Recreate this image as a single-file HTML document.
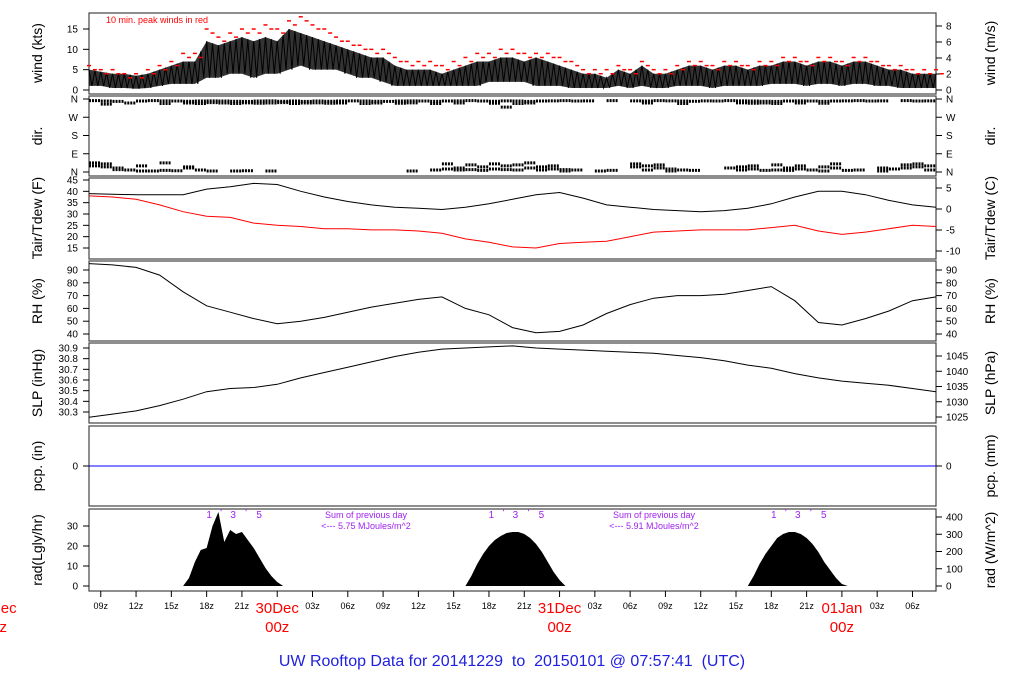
<!DOCTYPE html>
<html><head><meta charset="utf-8"><style>
html,body{margin:0;padding:0;background:#fff;}
svg{display:block;font-family:"Liberation Sans",sans-serif;}
</style></head><body>
<svg id="chart" width="1024" height="700" viewBox="0 0 1024 700" xmlns="http://www.w3.org/2000/svg"></svg>
<script>
// ---- data ----
const windHi=[5,4.5,4,4,3.5,4,5,6,7,7, 12,11,12,13,12,13,12,15,14,13, 12,11,10,9,8,8,6,5,5,5, 4,5,6,7,7,8,8,7,8,7, 6,5,4,4,3,5,4,6,4,4, 5,6,6,5,6,6,5,6,6,7, 7,6,7,7,6,7,7,6,5,5, 4,4,4];
const windLo=[1,1,0.5,0.5,0.3,0.5,1,1.5,1.5,1.5, 3,3,4,4,3,4,4,5,6,5, 5,5,4,3,3,2,1,1,1,1, 1,1,1,1,2,2,2,2,1,1, 1,0.5,0.5,0.5,0.5,1,0.5,1,0.5,0.5, 1,1,1,0.5,1,1,1,1,1.5,1.5, 1.5,1,1.5,1.5,1,1.5,1.5,1,1,0.5, 0.5,0.5,0.5];
const windPk=[6,5,5,4,4,5,6,7,9,9, 15,13,14,15,15,16,15,17,18,16, 15,13,12,11,10,10,8,7,7,7, 6,7,8,9,9,10,10,9,9,9, 8,7,5,5,5,6,5,7,5,5, 6,7,7,6,7,7,6,7,7,8, 8,7,8,8,7,8,8,7,6,6, 5,5,5];
const dirTop=[352,350,348,null,350,352,351,350,349,350, 351,350,349,348,350,351,349,350,348,350, 349,350,351,350,349,348,350,351,350,349, 350,351,352,350,349,351,350,348,350,351, 352,350,351,null,352,null,351,350,352,351, 350,349,351,350,352,351,350,349,348,350, 351,350,349,350,351,352,350,351,null,352, 350,351,352];
const dirTop2=[null,335,null,340,null,null,338,null,340,338, 342,340,338,341,339,340,342,338,340,341, 339,340,null,338,340,null,339,341,null,338, null,340,null,null,339,320,338,340,null,null, null,null,null,null,null,null,null,340,null,null, 338,null,null,null,null,341,339,340,338,null, 340,null,339,null,null,null,null,null,null,null, null,null,null];
const dirBot=[30,25,20,10,5,5,8,6,25,10, 5,null,5,6,null,5,null,null,null,null, null,null,null,null,null,null,null,5,null,10, 15,20,12,25,15,30,35,20,25,15, 12,10,null,5,8,null,25,30,20,15, 10,8,null,null,20,25,15,8,10,20, 15,10,25,20,8,10,null,5,15,20, 25,30,15];
const dirBot2=[45,40,12,null,30,null,45,null,20,null, null,null,null,null,null,null,null,null,null,null, null,null,null,null,null,null,null,null,null,null, 40,10,35,8,40,12,10,45,10,30, 5,null,null,null,null,null,40,10,35,5, null,null,null,null,null,10,30,null,35,8, 30,null,5,40,null,null,null,20,null,35, 40,10,45];
const tHours=[0,2,4,6,8,10,12,14,16,18,20,22,24,26,28,30,32,34,36,38,40,42,44,46,48,50,52,54,56,58,60,62,64,66,68,70,72];
const tair=[39,38.7,38.5,38.5,38.5,41,42,43.5,43,40,37.5,35.5,34,33,32.5,32,33,34.5,36.5,38.5,39.5,37,34,33,32,31.5,31,31.5,32.5,34.5,37.5,40,40,38.5,36,34,33];
const tdew=[38,37.5,36.5,34,31,29,28.5,26,25,24.5,23.5,23.5,23,23,22.5,21.5,19,17.5,15.5,15,17,17.5,18,20,22,22.5,23,23,23,24,25,22.5,21,22,23.5,25,24.5];
const rh=[95,94,92,86,73,62,57,52,48,50,53,57,61,64,67,69,60,55,45,41,42,47,56,63,68,70,70,71,74,77,66,49,47,52,58,66,69];
const slp=[30.25,30.28,30.31,30.36,30.42,30.49,30.52,30.53,30.56,30.62,30.67,30.72,30.77,30.82,30.86,30.89,30.9,30.91,30.92,30.9,30.89,30.88,30.87,30.86,30.85,30.83,30.81,30.78,30.74,30.71,30.66,30.62,30.59,30.57,30.55,30.52,30.49];
const pcp=[0,0];
const radStarts=[8,32,56];
const radDay1=[0,4,12,18,19,30,37,22,28,26,27,23,19,14,9,5,2,0];
const radDay2=[0,5,11,16,20,23,25,26.5,27,27,26,24,21,17,12,7,3,0];
const radDay3=[0,5,11,16,20,24,26,27,27,26,24,21,17,12,8,4,1,0];
const hourTicks=[1,4,7,10,13,16,19,22,25,28,31,34,37,40,43,46,49,52,55,58,61,64,67,70];
const hourLabels=["09z","12z","15z","18z","21z","00z","03z","06z","09z","12z","15z","18z","21z","00z","03z","06z","09z","12z","15z","18z","21z","00z","03z","06z"];
const dayHours=[-8,16,40,64];
const dayLabels=["29Dec","30Dec","31Dec","01Jan"];

// ---- helpers ----
const NS="http://www.w3.org/2000/svg";
const svg=document.getElementById('chart');
function el(tag,attrs,parent,text){const e=document.createElementNS(NS,tag);for(const k in attrs)e.setAttribute(k,attrs[k]);if(text!==undefined)e.textContent=text;(parent||svg).appendChild(e);return e;}
const X0=89,X1=936,HOURS=72;
const x=h=>X0+h*(X1-X0)/HOURS;
function lin(d0,d1,p0,p1){return v=>p0+(v-d0)*(p1-p0)/(d1-d0);}

function panel(name,top,bot){
  const r=el('rect',{x:X0,y:top,width:X1-X0,height:bot-top,fill:'none',stroke:'#444','stroke-width':1.2});
  
  
}
function leftTicks(name,vals,labs,ys){
  const g=el('g',{});
  
  
  vals.forEach((v,i)=>{const y=ys(v);el('line',{x1:X0-6,x2:X0,y1:y,y2:y,stroke:'#000'},g);
    el('text',{x:X0-11,y:y+3.5,'font-size':10,'text-anchor':'end'},g,labs[i]);});
}
function rightTicks(name,vals,labs,ys){
  const g=el('g',{});
  
  
  vals.forEach((v,i)=>{const y=ys(v);el('line',{x1:X1,x2:X1+6,y1:y,y2:y,stroke:'#000'},g);
    el('text',{x:X1+10,y:y+3.5,'font-size':10},g,labs[i]);});
}
function ytitle(name,txt,cx,cy){
  const t=el('text',{x:cx,y:cy,'font-size':14,'text-anchor':'middle',transform:`rotate(-90 ${cx} ${cy})`},svg,txt);
  
  
}
function poly(name,hs,vs,ys,color){
  const pts=hs.map((h,i)=>x(h).toFixed(1)+','+ys(vs[i]).toFixed(1)).join(' ');
  const p=el('polyline',{points:pts,fill:'none',stroke:color,'stroke-width':1});
  
  
}
const hourly=windHi.map((_,i)=>i);

// ---- wind ----
panel('wind',13,94);
const yW=lin(0,15,90,29);
const yWms=lin(0,8,90,26);
leftTicks('wind-kts',[0,5,10,15],['0','5','10','15'],yW);
rightTicks('wind-ms',[0,2,4,6,8],['0','2','4','6','8'],yWms);
ytitle('wind-kts-title','wind (kts)',42,53);
ytitle('wind-ms-title','wind (m/s)',995,53);
{
  const up=hourly.map(h=>x(h)+','+yW(windHi[h])).join(' ');
  const dn=hourly.slice().reverse().map(h=>x(h)+','+yW(windLo[h])).join(' ');
  const band=el('polygon',{points:up+' '+dn,fill:'#000','fill-opacity':0.8});
  
  
  const zz=[];hourly.forEach(h=>{zz.push(x(h)+','+yW(windHi[h]));if(h<72){zz.push(x(h+0.25)+','+yW(windLo[h]));zz.push(x(h+0.5)+','+yW((windHi[h]+windHi[h+1])/2));zz.push(x(h+0.75)+','+yW(windLo[h+1]));}});
  const zl=el('polyline',{points:zz.join(' '),fill:'none',stroke:'#000','stroke-width':1});
  
  
  const gg=el('g',{});
  
  
  windPk.forEach((v,h)=>{el('line',{x1:x(h)-2,x2:x(h)+2,y1:yW(v),y2:yW(v),stroke:'#f00','stroke-width':1.5},gg);
    el('line',{x1:x(h+0.5)-2,x2:x(h+0.5)+2,y1:yW(v-1),y2:yW(v-1),stroke:'#f00','stroke-width':1.5},gg);});
  const note=el('text',{x:106,y:23,'font-size':9,fill:'#f00'},svg,'10 min. peak winds in red');
  
  
}

// ---- direction ----
panel('dir',96,176);
const yD=lin(0,360,172,99);
leftTicks('dir',[0,90,180,270,360],['N','E','S','W','N'],yD);
rightTicks('dir',[0,90,180,270,360],['N','E','S','W','N'],yD);
ytitle('dir-title','dir.',42,136);
ytitle('dir-right-title','dir.',995,136);
{
  const g=el('g',{});
  
  
  [dirTop,dirTop2,dirBot,dirBot2].forEach(arr=>arr.forEach((v,h)=>{if(v===null||h>=72)return;
    el('line',{x1:x(h),x2:x(h+1),y1:yD(v),y2:yD(v),stroke:'#000','stroke-width':3,'stroke-dasharray':'2 1'},g);}));
}

// ---- temperature ----
panel('temp',178,259);
const yT=lin(15,45,248,180);
const yC=lin(-10,5,251,188);
leftTicks('temp-f',[15,20,25,30,35,40,45],['15','20','25','30','35','40','45'],yT);
rightTicks('temp-c',[-10,-5,0,5],['-10','-5','0','5'],yC);
ytitle('temp-f-title','Tair/Tdew (F)',42,218);
ytitle('temp-c-title','Tair/Tdew (C)',995,218);
poly('air-temperature-line',tHours,tair,yT,'#000');
poly('dewpoint-line',tHours,tdew,yT,'#f00');

// ---- RH ----
panel('rh',261,341);
const yR=lin(40,90,334,270);
leftTicks('rh',[40,50,60,70,80,90],['40','50','60','70','80','90'],yR);
rightTicks('rh-right',[40,50,60,70,80,90],['40','50','60','70','80','90'],yR);
ytitle('rh-title','RH (%)',42,301);
ytitle('rh-right-title','RH (%)',995,301);
poly('rh-line',tHours,rh,yR,'#000');

// ---- SLP ----
panel('slp',343,423);
const yS=lin(30.3,30.9,412,348);
const yP=lin(1025,1045,417,356);
leftTicks('slp-inhg',[30.3,30.4,30.5,30.6,30.7,30.8,30.9],['30.3','30.4','30.5','30.6','30.7','30.8','30.9'],yS);
rightTicks('slp-hpa',[1025,1030,1035,1040,1045],['1025','1030','1035','1040','1045'],yP);
ytitle('slp-inhg-title','SLP (inHg)',42,383);
ytitle('slp-hpa-title','SLP (hPa)',995,383);
poly('slp-line',tHours,slp,yS,'#000');

// ---- precip ----
panel('pcp',426,506);
const yPc=lin(0,1,466,436);
leftTicks('pcp-in',[0],['0'],yPc);
rightTicks('pcp-mm',[0],['0'],yPc);
ytitle('pcp-in-title','pcp. (in)',42,466);
ytitle('pcp-mm-title','pcp. (mm)',995,466);
poly('precip-line',[0,72],pcp,yPc,'#00f');

// ---- radiation ----
panel('rad',509,591);
const yRd=lin(0,30,586,526);
const yWm=lin(0,400,586,517);
leftTicks('rad-lgly',[0,10,20,30],['0','10','20','30'],yRd);
rightTicks('rad-wm2',[0,100,200,300,400],['0','100','200','300','400'],yWm);
ytitle('rad-title','rad(Lgly/hr)',42,550);
ytitle('rad-right-title','rad (W/m^2)',995,550);
[radDay1,radDay2,radDay3].forEach((arr,d)=>{
  const s=radStarts[d];
  const pts=arr.map((v,i)=>x(s+i*0.5)+','+yRd(v));
  pts.push(x(s+(arr.length-1)*0.5)+','+yRd(0));pts.push(x(s)+','+yRd(0));
  const p=el('polygon',{points:pts.join(' '),fill:'#000'});
  
  
  const g=el('g',{'font-size':10,fill:'#a020f0','text-anchor':'middle'});
  
  
  const c=x(s)+26;
  el('text',{x:c,y:518},g,'1');el('text',{x:c+12,y:516},g,"'");el('text',{x:c+24,y:518},g,'3');
  el('text',{x:c+37,y:516},g,"'");el('text',{x:c+50,y:518},g,'5');
});
[[366,'5.75'],[654,'5.91']].forEach((s,i)=>{
  const g=el('g',{'font-size':9,fill:'#a020f0','text-anchor':'middle'});
  
  
  el('text',{x:s[0],y:518},g,'Sum of previous day');
  el('text',{x:s[0],y:529},g,'<--- '+s[1]+' MJoules/m^2');
});

// ---- time axis ----
{
  const g=el('g',{});
  
  
  hourTicks.forEach((h,i)=>{el('line',{x1:x(h),x2:x(h),y1:591,y2:597,stroke:'#000'},g);
    if(hourLabels[i]!=='00z')el('text',{x:x(h),y:609,'font-size':9,'text-anchor':'middle'},g,hourLabels[i]);});
  dayHours.forEach((h,i)=>{
    el('text',{x:x(h),y:613,'font-size':15,fill:'#f00','text-anchor':'middle'},g,dayLabels[i]);
    el('text',{x:x(h),y:632,'font-size':15,fill:'#f00','text-anchor':'middle'},g,'00z');
  });
}
const title=el('text',{x:512,y:666,'font-size':16,fill:'#2020e0','text-anchor':'middle'},svg,'UW Rooftop Data for 20141229  to  20150101 @ 07:57:41  (UTC)');


title.setAttribute('xml:space','preserve');
title.style.whiteSpace='pre';
</script>
</body></html>
